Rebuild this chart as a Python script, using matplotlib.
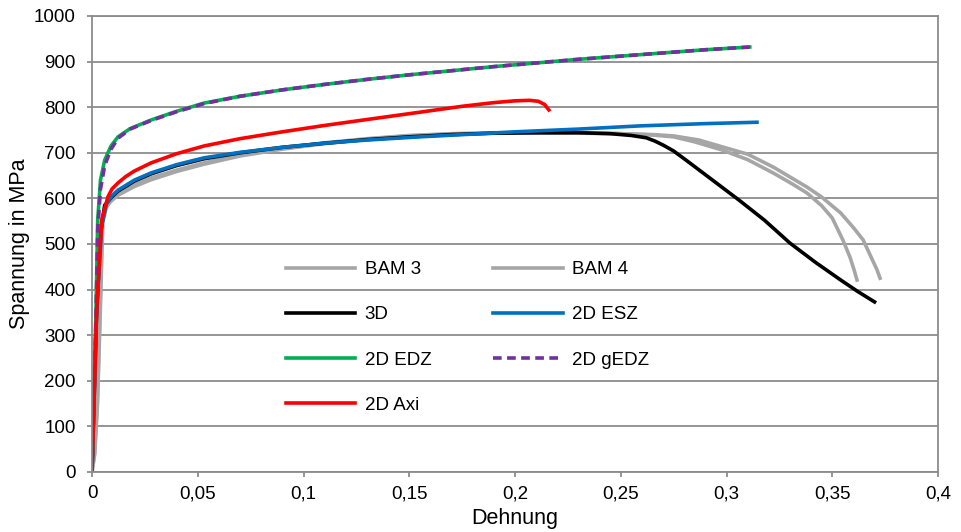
import matplotlib
matplotlib.use("Agg")
import matplotlib.pyplot as plt
import matplotlib.ticker as ticker

plt.rcParams['font.family'] = ['Liberation Sans', 'DejaVu Sans']

# Dehnung / Spannung values
bam3_x = [0, 0.0012, 0.0025, 0.0038, 0.0049, 0.0065, 0.0085, 0.0123, 0.02, 0.028, 0.04, 0.053,
          0.07, 0.09, 0.11, 0.13, 0.15, 0.17, 0.19, 0.21, 0.23, 0.25, 0.265, 0.275, 0.285,
          0.298, 0.31, 0.322, 0.331, 0.338, 0.345, 0.35, 0.355, 0.3584, 0.3602, 0.3617]
bam3_y = [0, 40, 150, 355, 553, 585, 597, 612, 630, 645, 662, 678,
          695, 710, 722, 731, 738, 742, 744, 744, 744, 742, 739, 735, 724,
          706, 685, 656, 632, 612, 584, 557, 509, 471, 445, 421]

bam4_x = [0, 0.0013, 0.0026, 0.0039, 0.0051, 0.0067, 0.0088, 0.0123, 0.02, 0.028, 0.04, 0.053,
          0.07, 0.09, 0.11, 0.13, 0.15, 0.17, 0.19, 0.21, 0.23, 0.25, 0.265, 0.275, 0.287,
          0.298, 0.31, 0.322, 0.338, 0.345, 0.354, 0.36, 0.3646, 0.369, 0.3712, 0.3726]
bam4_y = [0, 40, 150, 350, 548, 580, 593, 607, 626, 641, 659, 675,
          693, 708, 720, 730, 737, 741, 743, 743, 743, 742, 740, 737, 728,
          713, 697, 669, 625, 603, 568, 536, 509, 465, 443, 425]

d3_x = [0, 0.002, 0.004, 0.006, 0.0093, 0.0123, 0.02, 0.028, 0.04, 0.053, 0.07, 0.09, 0.11,
        0.13, 0.15, 0.17, 0.19, 0.21, 0.23, 0.245, 0.255, 0.262, 0.266, 0.27, 0.275, 0.282,
        0.29, 0.306, 0.318, 0.33, 0.342, 0.354, 0.362, 0.37]
d3_y = [0, 330, 520, 585, 603, 616, 638, 654, 672, 687, 700, 712, 721,
        729, 735, 740, 743, 744, 744, 742, 738, 733, 726, 717, 704, 680,
        652, 596, 552, 502, 460, 421, 396, 373]

esz_x = [0, 0.0022, 0.0046, 0.007, 0.0093, 0.0123, 0.02, 0.028, 0.04, 0.053, 0.07, 0.09,
         0.11, 0.13, 0.155, 0.18, 0.2, 0.23, 0.259, 0.29, 0.3144]
esz_y = [0, 355, 540, 590, 605, 618, 640, 656, 674, 689, 701, 712,
         721, 728, 735, 741, 746, 752, 759, 764, 767]

edz_x = [0, 0.0019, 0.0027, 0.004, 0.006, 0.009, 0.0123, 0.018, 0.028, 0.04, 0.053, 0.07,
         0.09, 0.11, 0.13, 0.15, 0.17, 0.19, 0.21, 0.23, 0.25, 0.27, 0.29, 0.311]
edz_y = [0, 355, 553, 640, 684, 715, 735, 753, 772, 791, 809, 824,
         838, 850, 861, 871, 880, 889, 897, 905, 912, 919, 926, 932]

gedz_x = [0, 0.0019, 0.0027, 0.004, 0.006, 0.009, 0.0123, 0.018, 0.028, 0.04, 0.053, 0.07,
          0.09, 0.11, 0.13, 0.15, 0.17, 0.19, 0.21, 0.23, 0.25, 0.27, 0.29, 0.311]
gedz_y = [0, 340, 530, 620, 672, 708, 732, 752, 771, 790, 808, 824,
          838, 850, 861, 871, 880, 889, 897, 905, 912, 919, 926, 932]

axi_x = [0, 0.0022, 0.0046, 0.0075, 0.0095, 0.0123, 0.016, 0.02, 0.028, 0.04, 0.053, 0.07,
         0.09, 0.11, 0.13, 0.155, 0.175, 0.19, 0.2, 0.207, 0.211, 0.214, 0.216]
axi_y = [0, 355, 553, 603, 621, 634, 648, 660, 678, 698, 715, 731,
         746, 760, 773, 789, 802, 810, 814, 815, 813, 806, 794]

x_ticks = [0, 0.05, 0.1, 0.15, 0.2, 0.25, 0.3, 0.35, 0.4]
y_ticks = list(range(0, 1001, 100))

fig = plt.figure(figsize=(9.61, 5.32), dpi=100)
ax = fig.add_axes([92 / 961, 60 / 532, 846 / 961, 456 / 532])

lw = 2.6
l_b3, = ax.plot(bam3_x, bam3_y, color='#A6A6A6', lw=lw, label='BAM 3')
l_b4, = ax.plot(bam4_x, bam4_y, color='#A6A6A6', lw=lw, label='BAM 4')
l_3d, = ax.plot(d3_x, d3_y, color='#000000', lw=lw, label='3D')
l_esz, = ax.plot(esz_x, esz_y, color='#0070C0', lw=lw, label='2D ESZ')
l_edz, = ax.plot(edz_x, edz_y, color='#00B050', lw=lw, label='2D EDZ')
l_gedz, = ax.plot(gedz_x, gedz_y, color='#7030A0', lw=lw, ls=(0, (2.4, 1.5)), label='2D gEDZ')
l_axi, = ax.plot(axi_x, axi_y, color='#FF0000', lw=lw, label='2D Axi')

grid_c = '#8C8C8C'
ax.set_xlim(0, 0.4)
ax.set_ylim(0, 1000)
ax.set_xticks(x_ticks)
ax.set_yticks(y_ticks)
ax.xaxis.set_major_formatter(ticker.FuncFormatter(lambda v, _: f'{v:g}'.replace('.', ',')))
ax.yaxis.grid(True, color=grid_c, lw=1.3)
ax.set_axisbelow(True)
for s in ax.spines.values():
    s.set_color(grid_c)
    s.set_linewidth(1.3)
ax.tick_params(direction='out', length=3.6, width=1.3, color=grid_c, labelsize=13.5)
ax.tick_params(axis='y', pad=8)
ax.tick_params(axis='x', pad=6)

ax.set_xlabel('Dehnung', fontsize=15.5)
ax.set_ylabel('Spannung in MPa', fontsize=15.5)
ax.xaxis.set_label_coords(0.5, (472 - 508) / 456)
ax.yaxis.set_label_coords((30 - 92) / 846, 0.5)

# ncol=2 fills column-wise
handles = [l_b3, l_3d, l_edz, l_axi, l_b4, l_esz, l_gedz]
ax.legend(handles=handles, labels=[h.get_label() for h in handles], ncol=2,
          loc='upper left', bbox_to_anchor=(286 / 961, 1 - 261 / 532),
          bbox_transform=fig.transFigure, frameon=False, fontsize=13.5,
          handlelength=3.7, handletextpad=0.5, labelspacing=1.5,
          columnspacing=3.3, borderaxespad=0, borderpad=0)

fig.savefig('out.png', dpi=100)
